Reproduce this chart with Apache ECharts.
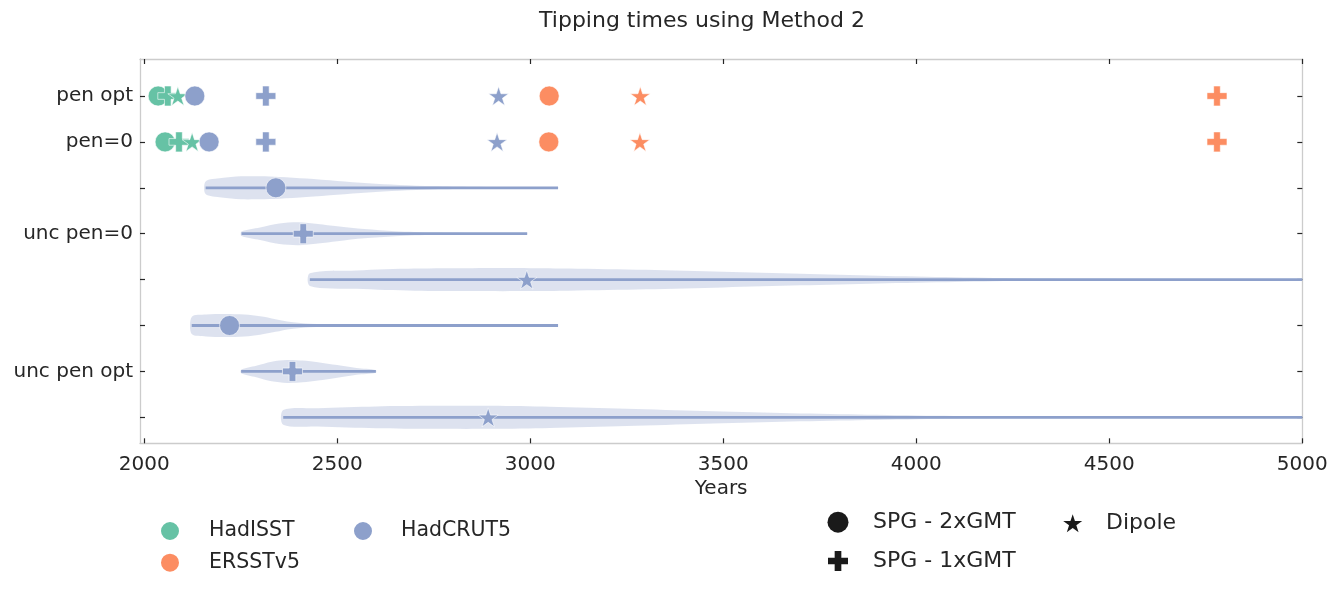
<!DOCTYPE html>
<html>
<head>
<meta charset="utf-8">
<script src="https://cdn.jsdelivr.net/npm/echarts@6/dist/echarts.min.js"></script>
<style>html,body{margin:0;padding:0;background:#fff}#chart{width:1338px;height:589px}</style>
</head>
<body>
<div id="chart"></div>
<script>
// ---------- data ----------
const rowLabels = ['pen opt', 'pen=0', '', 'unc pen=0', '', '', 'unc pen opt', ''];
const rowPositions = [0, 1, 2, 3, 4, 5, 6, 7];
const labelRows = [0, 1, 3, 6];
const xTicks = [2000, 2500, 3000, 3500, 4000, 4500, 5000];
const datasetNames = ['HadISST', 'ERSSTv5', 'HadCRUT5'];
const methodNames = ['SPG - 2xGMT', 'SPG - 1xGMT', 'Dipole'];
// values ordered [SPG - 2xGMT, SPG - 1xGMT, Dipole]
const hadisstPenOpt = [2036, 2061, 2087];
const hadisstPen0 = [2054, 2090, 2124];
const ersstPenOpt = [3049, 4779, 3285];
const ersstPen0 = [3048, 4779, 3284];
const hadcrutPenOpt = [2131, 2315, 2918];
const hadcrutPen0 = [2168, 2315, 2914];
// medians of the uncertainty violins (HadCRUT5)
const uncPen0Medians = [2341, 2412, 2991];   // rows 2,3,4
const uncPenOptMedians = [2221, 2384, 2891]; // rows 5,6,7
// violin profiles (years, relative density)
const violinRows = [2, 3, 4, 5, 6, 7];
const violinYears = [
  [2159, 2200, 2250, 2300, 2350, 2420, 2500, 2580, 2660, 2750, 2850, 3000, 3072],
  [2252, 2300, 2350, 2400, 2450, 2500, 2570, 2650, 2750, 2880, 2992],
  [2429, 2550, 2700, 2850, 3000, 3100, 3300, 3500, 3700, 3900, 4100, 4300, 4600, 5000],
  [2123, 2160, 2210, 2260, 2300, 2340, 2380, 2430, 2500, 2700, 3072],
  [2251, 2290, 2330, 2370, 2410, 2450, 2500, 2550, 2600],
  [2360, 2450, 2600, 2750, 2900, 3050, 3250, 3450, 3650, 3850, 4050, 4250, 4600, 5000]
];
const violinDensity = [
  [0.55, 0.85, 1.0, 1.0, 0.95, 0.8, 0.6, 0.4, 0.25, 0.15, 0.09, 0.05, 0.04],
  [0.2, 0.55, 0.9, 1.0, 0.85, 0.65, 0.4, 0.22, 0.1, 0.05, 0.03],
  [0.55, 0.8, 0.97, 1.0, 1.0, 0.97, 0.85, 0.68, 0.5, 0.33, 0.2, 0.1, 0.06, 0.04],
  [0.75, 0.95, 1.0, 0.95, 0.8, 0.55, 0.3, 0.15, 0.08, 0.04, 0.03],
  [0.15, 0.5, 0.85, 1.0, 0.95, 0.8, 0.55, 0.3, 0.12],
  [0.64, 0.8, 0.95, 1.0, 1.0, 0.92, 0.75, 0.55, 0.38, 0.25, 0.14, 0.08, 0.05, 0.04]
];

// ---------- styles ----------
const colors = { HadISST: '#66c2a5', ERSSTv5: '#fc8d62', HadCRUT5: '#8da0cb' };
const plusPath = 'path://M2,0H4V2H6V4H4V6H2V4H0V2H2Z';
const starPath = 'path://M100,0L122.45,69.1L195.11,69.1L136.33,111.8L158.78,180.9L100,138.2L41.22,180.9L63.67,111.8L4.89,69.1L77.55,69.1Z';
const methodSymbols = ['circle', plusPath, starPath];
const methodSizes = [20, 20, 20];
const violinHalfWidth = 0.25;
const font = 'DejaVu Sans';
const textColor = '#262626';

function pts(penOpt, pen0) {
  const out = [];
  penOpt.forEach((v, m) => out.push([v, 0, m]));
  pen0.forEach((v, m) => out.push([v, 1, m]));
  return out;
}
const hadcrutPoints = pts(hadcrutPenOpt, hadcrutPen0)
  .concat(uncPen0Medians.map((v, m) => [v, 2 + m, m]))
  .concat(uncPenOptMedians.map((v, m) => [v, 5 + m, m]));

function scatter(name, data) {
  return {
    type: 'scatter', name: name, data: data, z: 5,
    symbol: v => methodSymbols[v[2]],
    symbolSize: v => methodSizes[v[2]],
    symbolKeepAspect: true,
    itemStyle: { color: colors[name], opacity: 1, borderColor: '#ffffff', borderWidth: 0.6 },
    emphasis: { disabled: true }
  };
}

const violinData = violinRows.map((r, i) => [violinYears[i][0], r, violinYears[i][violinYears[i].length - 1], i]);

const series = [
  {
    type: 'custom', name: 'violins', z: 2, silent: true,
    data: violinData,
    encode: { x: [0, 2], y: 1 },
    renderItem: function (params, api) {
      const i = api.value(3), row = api.value(1);
      const ys = violinYears[i], ds = violinDensity[i];
      const top = [], bot = [];
      for (let k = 0; k < ys.length; k++) {
        top.push(api.coord([ys[k], row - ds[k] * violinHalfWidth]));
        bot.push(api.coord([ys[k], row + ds[k] * violinHalfWidth]));
      }
      const poly = top.concat(bot.reverse());
      const a = api.coord([ys[0], row]), b = api.coord([ys[ys.length - 1], row]);
      return {
        type: 'group',
        children: [
          { type: 'polygon', shape: { points: poly, smooth: 0.3 }, style: { fill: 'rgba(141,160,203,0.3)' } },
          { type: 'line', shape: { x1: a[0], y1: a[1], x2: b[0], y2: b[1] }, style: { stroke: '#8da0cb', lineWidth: 2.8 } }
        ]
      };
    }
  },
  scatter('HadISST', pts(hadisstPenOpt, hadisstPen0)),
  scatter('ERSSTv5', pts(ersstPenOpt, ersstPen0)),
  scatter('HadCRUT5', hadcrutPoints)
].concat(methodNames.map((n, m) => ({
  type: 'scatter', name: n, data: [], symbol: methodSymbols[m],
  itemStyle: { color: '#1a1a1a', opacity: 1 }
})));

function legend(name, icon, size, cx, cy, textX, fontSize) {
  return {
    data: [{ name: name, icon: icon, itemStyle: { opacity: 1 } }],
    left: cx - size / 2, top: cy - size / 2, padding: 0, itemGap: 0,
    itemWidth: size, itemHeight: size, selectedMode: false,
    textStyle: { fontSize: fontSize, fontFamily: font, color: textColor,
      padding: [0, 0, 0, textX - (cx + size / 2) - 5] }
  };
}

const frameColor = '#cccccc';
const tickStyle = { show: true, inside: true, length: 5, lineStyle: { color: '#262626', width: 1.2 } };

const option = {
  animation: false,
  backgroundColor: '#ffffff',
  graphic: [{
    type: 'text', x: 702, y: 21,
    style: { text: 'Tipping times using Method 2', fontSize: 22, fontFamily: font, fill: textColor, align: 'center', verticalAlign: 'middle' }
  }],
  grid: { left: 140, right: 35.7, top: 59, height: 384.3, containLabel: false },
  xAxis: [
    {
      type: 'value', min: 1989, max: 5000, position: 'bottom',
      name: 'Years', nameLocation: 'middle', nameGap: 33,
      nameTextStyle: { fontSize: 20, fontFamily: font, color: textColor },
      axisLine: { show: true, onZero: false, lineStyle: { color: frameColor, width: 1.3 } },
      axisTick: Object.assign({ customValues: xTicks }, tickStyle),
      axisLabel: { customValues: xTicks, fontSize: 20, fontFamily: font, color: textColor, margin: 11,
        formatter: v => String(v) },
      splitLine: { show: false }
    },
    {
      type: 'value', min: 1989, max: 5000, position: 'top',
      axisLine: { show: true, onZero: false, lineStyle: { color: frameColor, width: 1.3 } },
      axisTick: Object.assign({ customValues: xTicks }, tickStyle),
      axisLabel: { show: false },
      splitLine: { show: false }
    }
  ],
  yAxis: [
    {
      type: 'value', inverse: true, min: -0.806, max: 7.566, position: 'left',
      axisLine: { show: true, onZero: false, lineStyle: { color: frameColor, width: 1.3 } },
      axisTick: Object.assign({ customValues: rowPositions }, tickStyle),
      axisLabel: {
        customValues: labelRows, fontSize: 20, fontFamily: font, color: textColor, margin: 7,
        formatter: v => rowLabels[Math.round(v)]
      },
      splitLine: { show: false }
    },
    {
      type: 'value', inverse: true, min: -0.806, max: 7.566, position: 'right',
      axisLine: { show: true, onZero: false, lineStyle: { color: frameColor, width: 1.3 } },
      axisTick: Object.assign({ customValues: rowPositions }, tickStyle),
      axisLabel: { show: false },
      splitLine: { show: false }
    }
  ],
  legend: [
    legend('HadISST', 'circle', 20, 169, 530, 208, 20.5),
    legend('ERSSTv5', 'circle', 20, 169, 561.7, 208, 20.5),
    legend('HadCRUT5', 'circle', 20, 362, 530, 400, 20.5),
    legend('SPG - 2xGMT', 'circle', 21, 838, 521.7, 873, 22),
    legend('SPG - 1xGMT', plusPath, 20, 838, 560, 873, 22),
    legend('Dipole', starPath, 19, 1072.7, 521.7, 1106, 22)
  ],
  series: series
};

const chart = echarts.init(document.getElementById('chart'), null, { renderer: 'canvas' });
chart.setOption(option);
</script>
</body>
</html>
